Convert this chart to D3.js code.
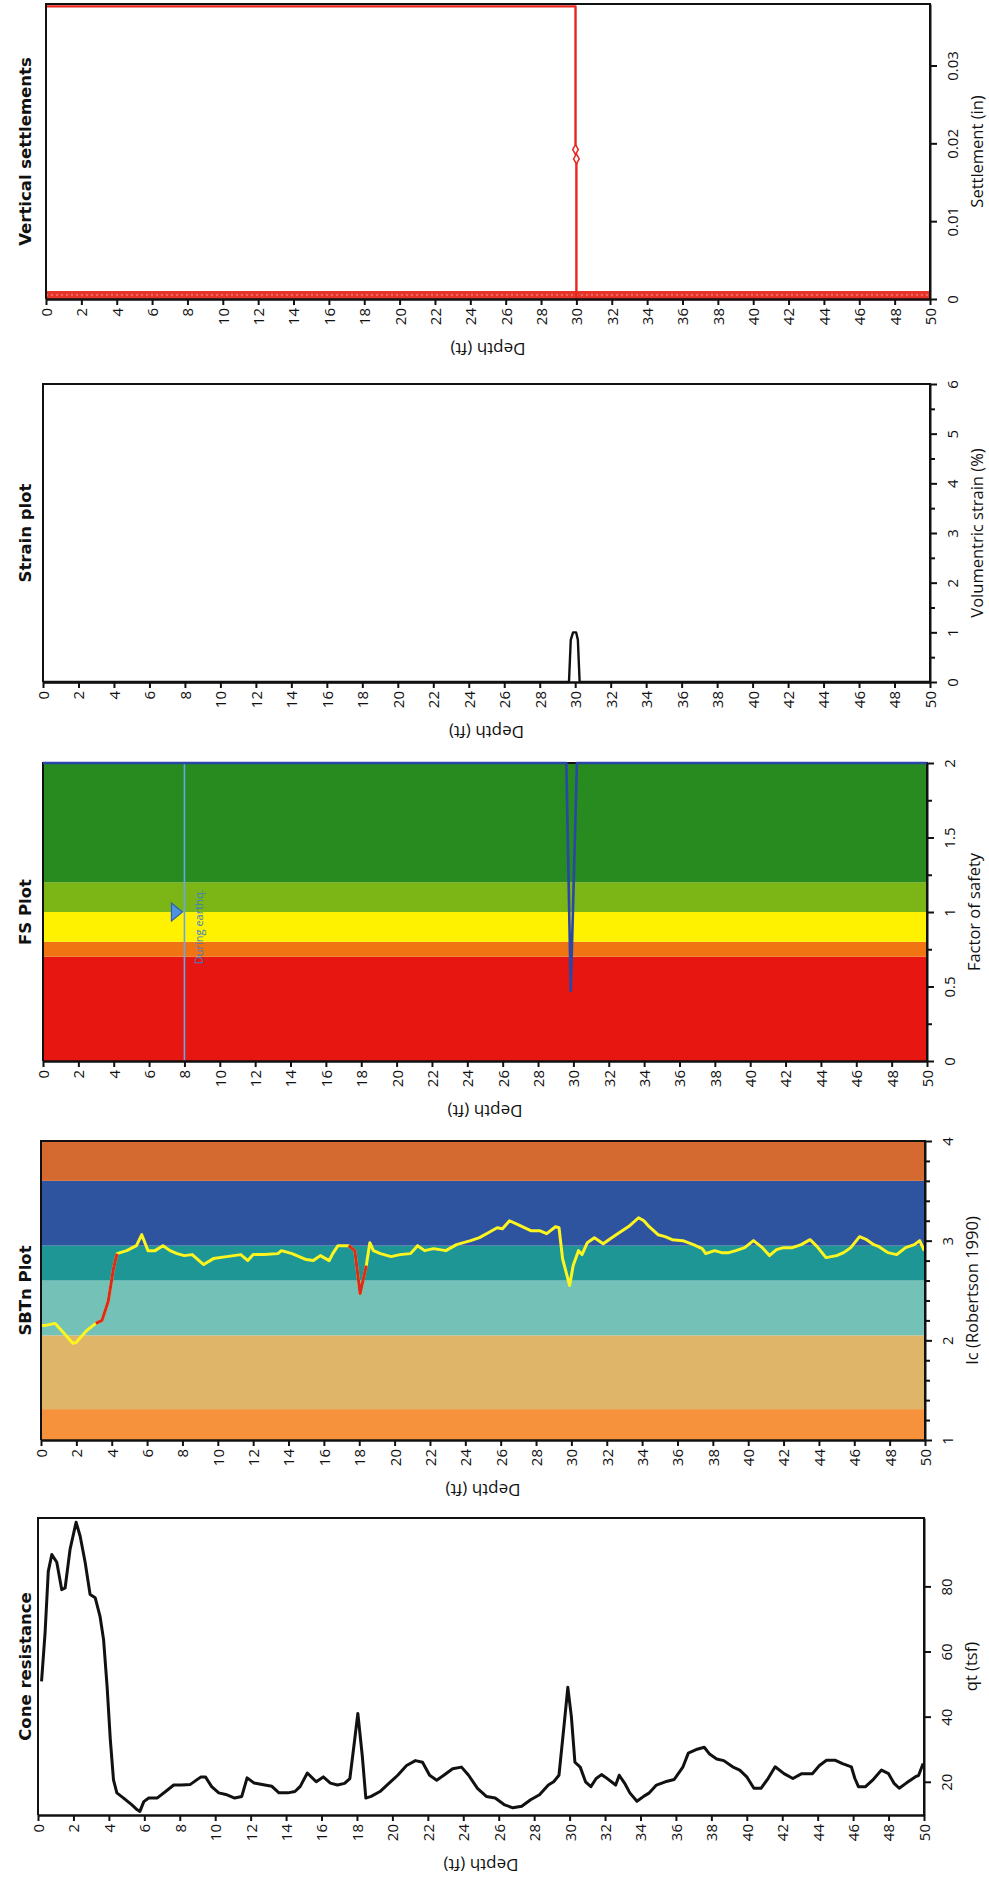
<!DOCTYPE html>
<head>
  <meta charset="utf-8">
  <script src="https://cdn.jsdelivr.net/npm/d3@7"></script>
</head>

<style>
  body { margin: 0; background: #fff; }
  text { font-family: "Open Sans", sans-serif; }
  .title { font-family: "DejaVu Sans", sans-serif; font-weight: bold; font-size: 16.5px; }
</style>
<body>
<script>

// ---- data ----
var depthTicks = [0, 2, 4, 6, 8, 10, 12, 14, 16, 18, 20, 22, 24, 26, 28, 30, 32, 34, 36, 38, 40, 42, 44, 46, 48, 50];

// vertical settlements (in)
var settleDepth = [0, 29.95, 29.95, 30.0, 30.0, 50];
var settleValue = [0.0376, 0.0376, 0.0192, 0.0180, 0, 0];
var settlePointDepth = [29.95, 30.0];
var settlePointValue = [0.0192, 0.0180];
var settleTicks = [0, 0.01, 0.02, 0.03];

// strain plot (%)
var strainDepth = [0, 29.65, 29.75, 29.88, 30.05, 30.15, 30.25, 50];
var strainValue = [0, 0, 0.85, 1.0, 1.0, 0.85, 0, 0];
var strainTicks = [0, 1, 2, 3, 4, 5, 6];
var strainMinor = [0.5, 1.5, 2.5, 3.5, 4.5, 5.5];

// FS plot
var fsDepth = [0, 29.6, 29.85, 30.2, 50];
var fsValue = [2, 2, 0.47, 2, 2];
var fsBandEdges = [0, 0.7, 0.8, 1.0, 1.2, 2];
var fsBandColors = ["#e81611", "#f07412", "#fff200", "#7cb616", "#278b1f"];
var fsTicks = [0, 0.5, 1, 1.5, 2];
var fsMinor = [0.25, 0.75, 1.25, 1.75];
var gwtDepth = 8, gwtFs = 1.0, gwtLabel = "During earthq.";

// SBTn plot
var icDepth = [0, 0.25, 0.8, 1.2, 1.8, 2.0, 2.6, 3.1, 3.45, 3.8, 4.1, 4.3, 4.85, 5.4, 5.7, 6.05, 6.45, 6.9, 7.3, 7.7,
  8.1, 8.55, 9.2, 9.75, 10.5, 11.3, 11.7, 12.0, 12.6, 13.4, 13.6, 14.2, 15.0, 15.4, 15.8, 16.3, 16.5, 16.8, 17.4, 17.75,
  18.05, 18.4, 18.6, 18.8, 19.2, 19.8, 20.3, 20.9, 21.3, 21.7, 22.2, 22.9, 23.5, 24.3, 24.8, 25.3, 25.8, 26.1, 26.5, 27.1,
  27.7, 28.2, 28.6, 29.1, 29.3, 29.5, 29.9, 30.1, 30.4, 30.6, 30.9, 31.3, 31.8, 32.2, 32.7, 33.3, 33.8, 34.1, 34.4, 34.9,
  35.3, 35.7, 36.3, 36.9, 37.4, 37.6, 38.1, 38.5, 38.9, 39.3, 39.8, 40.3, 40.8, 41.2, 41.6, 42.0, 42.5, 43.0, 43.5, 43.9,
  44.4, 45.0, 45.4, 45.8, 46.3, 46.7, 47.1, 47.4, 47.9, 48.4, 48.9, 49.4, 49.7, 49.95];
var icValue = [2.15, 2.15, 2.17, 2.09, 1.97, 1.98, 2.1, 2.17, 2.2, 2.39, 2.72, 2.87, 2.9, 2.95, 3.06, 2.9, 2.9, 2.95, 2.9, 2.87,
  2.85, 2.86, 2.76, 2.82, 2.84, 2.86, 2.8, 2.86, 2.86, 2.87, 2.9, 2.87, 2.81, 2.8, 2.85, 2.8, 2.87, 2.95, 2.95, 2.9,
  2.47, 2.75, 2.98, 2.9, 2.87, 2.84, 2.86, 2.87, 2.95, 2.9, 2.92, 2.9, 2.96, 3.0, 3.03, 3.08, 3.13, 3.12, 3.2, 3.15,
  3.1, 3.1, 3.07, 3.14, 3.13, 2.82, 2.55, 2.75, 2.9, 2.86, 2.98, 3.03, 2.97, 3.02, 3.08, 3.15, 3.23, 3.2, 3.14, 3.06,
  3.04, 3.01, 3.0, 2.96, 2.92, 2.87, 2.9, 2.88, 2.88, 2.9, 2.93, 3.0, 2.93, 2.85, 2.91, 2.93, 2.93, 2.96, 3.01, 2.94,
  2.83, 2.85, 2.88, 2.93, 3.04, 3.01, 2.96, 2.94, 2.88, 2.86, 2.93, 2.96, 3.0, 2.9];
var icRedRanges = [[3.1, 4.3], [17.4, 18.4]];
var icBandEdges = [1, 1.31, 2.05, 2.6, 2.95, 3.6, 4];
var icBandColors = ["#f5923b", "#dfb669", "#73c1b7", "#1e9695", "#2e539f", "#d56a30"];
var icTicks = [1, 2, 3, 4];
var icMinor = [1.2, 1.4, 1.6, 1.8, 2.2, 2.4, 2.6, 2.8, 3.2, 3.4, 3.6, 3.8];

// cone resistance qt (tsf)
var qtDepth = [0.2, 0.4, 0.58, 0.78, 1.06, 1.34, 1.53, 1.81, 2.15, 2.38, 2.66, 2.94, 3.23, 3.5, 3.7, 3.9, 4.08, 4.26, 4.45, 4.83,
  5.3, 5.6, 5.75, 5.97, 6.25, 6.72, 7.2, 7.66, 8.1, 8.6, 9.2, 9.45, 9.8, 10.2, 10.6, 11.1, 11.5, 11.8, 12.2, 12.8,
  13.2, 13.6, 14.1, 14.5, 14.8, 15.2, 15.7, 16.1, 16.5, 16.9, 17.3, 17.6, 17.85, 18.05, 18.3, 18.5, 18.8, 19.3, 19.8, 20.3,
  20.8, 21.3, 21.7, 22.1, 22.5, 22.9, 23.4, 23.9, 24.3, 24.8, 25.3, 25.8, 26.3, 26.8, 27.3, 27.8, 28.3, 28.8, 29.1, 29.4,
  29.7, 29.9, 30.1, 30.3, 30.6, 30.9, 31.2, 31.5, 31.8, 32.0, 32.6, 32.8, 33.1, 33.4, 33.8, 34.2, 34.5, 34.9, 35.4, 35.9,
  36.4, 36.7, 37.2, 37.6, 37.9, 38.3, 38.7, 39.2, 39.6, 40.0, 40.4, 40.8, 41.2, 41.6, 42.1, 42.6, 43.1, 43.7, 44.1, 44.5,
  45.0, 45.4, 45.9, 46.1, 46.3, 46.7, 47.1, 47.6, 48.0, 48.3, 48.6, 49.0, 49.5, 49.7, 49.95];
var qtValue = [50.8, 65.8, 84.6, 89.8, 87.4, 79, 79.5, 91.4, 99.7, 95.4, 87.4, 77.5, 76.5, 70.8, 63.7, 49.2, 33, 20.6, 16.6, 15,
  12.9, 11.4, 10.9, 13.9, 15, 15, 17, 19, 19, 19.2, 21.5, 21.5, 18.5, 16.6, 16.1, 15, 15.5, 21.2, 19.6, 19,
  18.6, 16.6, 16.6, 17, 18.6, 22.7, 20, 21.5, 19.6, 19, 19.5, 21, 32, 41, 28, 15, 15.5, 17, 19.5, 22,
  25, 26.5, 26, 22, 20.5, 22, 24, 24.5, 22, 18, 15.5, 15, 13, 12, 12.5, 14.5, 16, 19, 20, 22,
  38, 49, 40, 26, 24.5, 20, 18.5, 21, 22.2, 21.5, 19, 22, 19.6, 16.6, 14, 15.6, 16.6, 19, 20, 20.7,
  24.6, 28.8, 30, 30.6, 28.5, 27, 26.5, 24.6, 23.6, 21.5, 18, 18, 21, 24.6, 22.5, 21, 22.5, 22.5, 25, 26.6,
  26.6, 25.6, 24.6, 21, 18.5, 18.5, 20.5, 23.6, 22.5, 19.6, 18, 19.6, 21.5, 22, 25.6];
var qtTicks = [20, 40, 60, 80];

// ---- drawing ----
var width = 989, height = 1881;

var svg = d3.select("body").append("svg")
    .attr("width", width)
    .attr("height", height);

function zip(a, b) { return a.map(function(d, i) { return [d, b[i]]; }); }

function path(g, x, y, pts, color, w) {
  return g.append("path")
      .datum(pts)
      .attr("fill", "none")
      .attr("stroke", color)
      .attr("stroke-width", w)
      .attr("stroke-linejoin", "round")
      .attr("d", d3.line().x(function(d) { return x(d[0]); }).y(function(d) { return y(d[1]); }));
}

function drawPanel(p) {
  var g = svg.append("g");
  var x = d3.scaleLinear().domain([0, 50]).range([p.left, p.right]);
  var y = d3.scaleLinear().domain(p.yDomain).range([p.bottom, p.top]);

  // coloured zones
  if (p.bandEdges) {
    var bands = p.bandColors.map(function(c, i) { return {lo: p.bandEdges[i], hi: p.bandEdges[i + 1], color: c}; });
    g.selectAll(".band").data(bands).enter().append("rect")
        .attr("x", p.left)
        .attr("width", p.right - p.left)
        .attr("y", function(d) { return y(d.hi); })
        .attr("height", function(d) { return y(d.lo) - y(d.hi); })
        .attr("fill", function(d) { return d.color; });
  }

  if (p.draw) p.draw(g, x, y);

  // frame (left, top, right)
  g.append("path")
      .attr("d", "M" + p.left + "," + p.bottom + "V" + p.top + "H" + p.right + "V" + p.bottom)
      .attr("fill", "none")
      .attr("stroke", "#111")
      .attr("stroke-width", 2);

  if (p.after) p.after(g, x, y);

  // depth axis
  var xa = g.append("g")
      .attr("transform", "translate(0," + p.bottom + ")")
      .call(d3.axisBottom(x).tickValues(depthTicks).tickSize(6).tickSizeOuter(0).tickFormat(d3.format("d")));
  xa.select(".domain").attr("stroke", "#111").attr("stroke-width", 2.5);
  xa.selectAll(".tick line").attr("stroke", "#111").attr("stroke-width", 2);
  xa.selectAll(".tick text")
      .attr("transform", "rotate(-90)")
      .attr("text-anchor", "end")
      .attr("x", -9)
      .attr("y", 0)
      .attr("dy", "0.36em")
      .attr("fill", "#111")
      .style("font-size", "15px");

  g.append("text")
      .attr("transform", "translate(" + x(25) + "," + (p.bottom + 50) + ") rotate(180)")
      .attr("text-anchor", "middle")
      .attr("dominant-baseline", "central")
      .style("font-size", "17px")
      .attr("fill", "#111")
      .text("Depth (ft)");

  // value axis on the right
  if (p.minor) {
    var ym = g.append("g")
        .attr("transform", "translate(" + p.right + ",0)")
        .call(d3.axisRight(y).tickValues(p.minor).tickSize(5).tickFormat(""));
    ym.select(".domain").remove();
    ym.selectAll(".tick line").attr("stroke", "#111").attr("stroke-width", 2);
  }
  var ya = g.append("g")
      .attr("transform", "translate(" + p.right + ",0)")
      .call(d3.axisRight(y).tickValues(p.ticks).tickSize(7).tickSizeOuter(0).tickFormat(p.fmt || function(d) { return d; }));
  ya.select(".domain").attr("stroke", "#111").attr("stroke-width", 2);
  ya.selectAll(".tick line").attr("stroke", "#111").attr("stroke-width", 2);
  ya.selectAll(".tick text")
      .attr("transform", "translate(17,0) rotate(-90)")
      .attr("text-anchor", "middle")
      .attr("x", 0)
      .attr("y", 0)
      .attr("dy", "0.71em")
      .attr("fill", "#111")
      .style("font-size", "15px");

  g.append("text")
      .attr("transform", "translate(" + (p.right + 46) + "," + ((p.top + p.bottom) / 2) + ") rotate(-90)")
      .attr("text-anchor", "middle")
      .attr("dominant-baseline", "central")
      .style("font-size", "16.5px")
      .attr("fill", "#111")
      .text(p.yLabel);

  // title on the left
  g.append("text")
      .attr("class", "title")
      .attr("transform", "translate(25," + ((p.top + p.bottom) / 2) + ") rotate(-90)")
      .attr("text-anchor", "middle")
      .attr("dominant-baseline", "central")
      .attr("fill", "#111")
      .text(p.title);
}

// Vertical settlements
drawPanel({
  title: "Vertical settlements", yLabel: "Settlement (in)",
  left: 46, right: 930, top: 4, bottom: 299,
  yDomain: [0, 0.0379], ticks: settleTicks,
  fmt: function(d) { return d === 0 ? "0" : d3.format(".2f")(d); },
  draw: function(g, x, y) {
    // zero-value markers along the whole profile merge into a thick band
    g.append("line")
        .attr("x1", x(0)).attr("x2", x(50))
        .attr("y1", y(0) - 4).attr("y2", y(0) - 4)
        .attr("stroke", "#e8352c").attr("stroke-width", 8);
    g.append("line")
        .attr("x1", x(0)).attr("x2", x(50))
        .attr("y1", y(0) - 4).attr("y2", y(0) - 4)
        .attr("stroke", "#f27a6e").attr("stroke-width", 1.5)
        .attr("stroke-dasharray", "2,3");
    path(g, x, y, zip(settleDepth, settleValue), "#e8261f", 2.4);
    g.selectAll(".sp").data(zip(settlePointDepth, settlePointValue)).enter().append("path")
        .attr("transform", function(d) { return "translate(" + x(d[0]) + "," + y(d[1]) + ")"; })
        .attr("d", d3.symbol().type(d3.symbolDiamond).size(28))
        .attr("fill", "#fff").attr("stroke", "#e8261f").attr("stroke-width", 1.5);
  }
});

// Strain plot
drawPanel({
  title: "Strain plot", yLabel: "Volumentric strain (%)",
  left: 43, right: 930, top: 384, bottom: 682,
  yDomain: [0, 6], ticks: strainTicks, minor: strainMinor,
  draw: function(g, x, y) {
    path(g, x, y, zip(strainDepth, strainValue), "#111", 2.4);
  }
});

// FS plot
drawPanel({
  title: "FS Plot", yLabel: "Factor of safety",
  left: 43, right: 927, top: 763, bottom: 1061,
  yDomain: [0, 2], ticks: fsTicks, minor: fsMinor,
  bandEdges: fsBandEdges, bandColors: fsBandColors,
  draw: function(g, x, y) {
    g.append("line")
        .attr("x1", x(gwtDepth)).attr("x2", x(gwtDepth))
        .attr("y1", y(2)).attr("y2", y(0))
        .attr("stroke", "#6aa6e6").attr("stroke-width", 1.6);
    var tx = x(gwtDepth) - 2, ty = y(gwtFs);
    g.append("path")
        .attr("d", "M" + tx + "," + ty + "L" + (tx - 11) + "," + (ty - 9) + "L" + (tx - 11) + "," + (ty + 9) + "Z")
        .attr("fill", "#4f93e0").attr("stroke", "#2b62b4").attr("stroke-width", 1.2);
    g.append("text")
        .attr("transform", "translate(" + (x(gwtDepth) + 14) + "," + (y(0.65)) + ") rotate(-90)")
        .attr("text-anchor", "start")
        .attr("dominant-baseline", "central")
        .style("font-size", "11px")
        .attr("fill", "#3d7cc9")
        .text(gwtLabel);
  },
  after: function(g, x, y) {
    path(g, x, y, zip(fsDepth, fsValue), "#2a46a8", 2.6);
  }
});

// SBTn plot
drawPanel({
  title: "SBTn Plot", yLabel: "Ic (Robertson 1990)",
  left: 41, right: 925, top: 1141, bottom: 1440,
  yDomain: [1, 4], ticks: icTicks, minor: icMinor,
  bandEdges: icBandEdges, bandColors: icBandColors,
  draw: function(g, x, y) {
    var pts = zip(icDepth, icValue);
    path(g, x, y, pts, "#fcf520", 3);
    icRedRanges.forEach(function(r) {
      var seg = pts.filter(function(d) { return d[0] >= r[0] && d[0] <= r[1]; });
      path(g, x, y, seg, "#dc2a1e", 3);
    });
  }
});

// Cone resistance
drawPanel({
  title: "Cone resistance", yLabel: "qt (tsf)",
  left: 38, right: 924, top: 1518, bottom: 1815,
  yDomain: [9.8, 101], ticks: qtTicks,
  draw: function(g, x, y) {
    path(g, x, y, zip(qtDepth, qtValue), "#111", 3);
  }
});

</script>
</body>
